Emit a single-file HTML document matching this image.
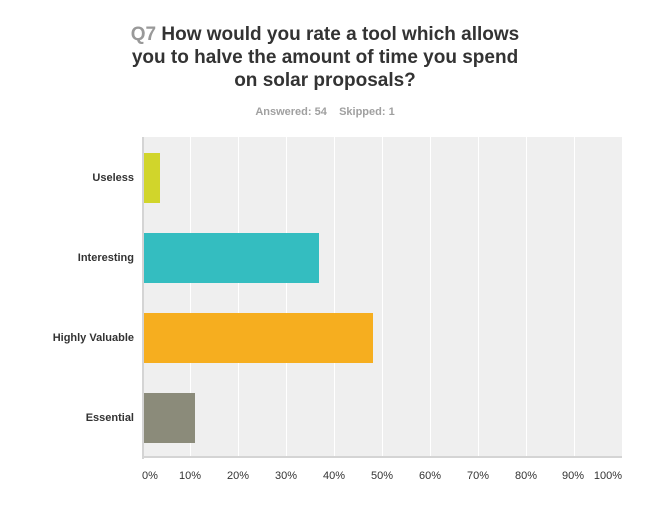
<!DOCTYPE html>
<html><head><style>
body{margin:0;width:650px;height:531px;background:#fff;font-family:"Liberation Sans",Arial,sans-serif;position:relative;overflow:hidden}
.t{position:absolute;left:0;width:650px;text-align:center;font-weight:bold;font-size:19px;color:#333;line-height:23px;top:23px}
.s{position:absolute;left:0;width:650px;text-align:center;font-weight:bold;font-size:11px;color:#a0a0a0;top:106px}
.plot{position:absolute;left:142px;top:137px;width:480px;height:320px;background:#efefef}
.g{position:absolute;top:0;height:320px;width:1px;background:#fff}
.b{position:absolute;left:1px;height:50px}
.axl{position:absolute;left:142px;top:137px;width:2px;height:322px;background:#d4d4d4}
.axb{position:absolute;left:142px;top:456px;width:480px;height:2px;background:#d4d4d4}
.yl{position:absolute;right:516px;font-weight:bold;font-size:11px;color:#333;text-align:right}
.xl{position:absolute;top:470px;font-size:11px;color:#333;width:40px;margin-left:-20px;text-align:center}
</style></head><body>
<div class="t"><span style="color:#999">Q7</span> How would you rate a tool which allows<br>you to halve the amount of time you spend<br>on solar proposals?</div>
<div class="s">Answered: 54&nbsp;&nbsp;&nbsp;&nbsp;Skipped: 1</div>
<div class="plot">
<div class="g" style="left:48px"></div><div class="g" style="left:96px"></div><div class="g" style="left:144px"></div><div class="g" style="left:192px"></div><div class="g" style="left:240px"></div><div class="g" style="left:288px"></div><div class="g" style="left:336px"></div><div class="g" style="left:384px"></div><div class="g" style="left:432px"></div>
<div class="b" style="top:16px;width:17px;background:#d1d52b"></div>
<div class="b" style="top:96px;width:176px;background:#34bdc0"></div>
<div class="b" style="top:176px;width:230px;background:#f6ae1f"></div>
<div class="b" style="top:256px;width:52px;background:#8b8b7a"></div>
</div>
<div class="axl"></div><div class="axb"></div>
<div class="yl" style="top:172px">Useless</div>
<div class="yl" style="top:252px">Interesting</div>
<div class="yl" style="top:332px">Highly Valuable</div>
<div class="yl" style="top:412px">Essential</div>
<div class="xl" style="left:150px">0%</div>
<div class="xl" style="left:190px">10%</div>
<div class="xl" style="left:238px">20%</div>
<div class="xl" style="left:286px">30%</div>
<div class="xl" style="left:334px">40%</div>
<div class="xl" style="left:382px">50%</div>
<div class="xl" style="left:430px">60%</div>
<div class="xl" style="left:478px">70%</div>
<div class="xl" style="left:526px">80%</div>
<div class="xl" style="left:573px">90%</div>
<div class="xl" style="left:608px">100%</div>
</body></html>
